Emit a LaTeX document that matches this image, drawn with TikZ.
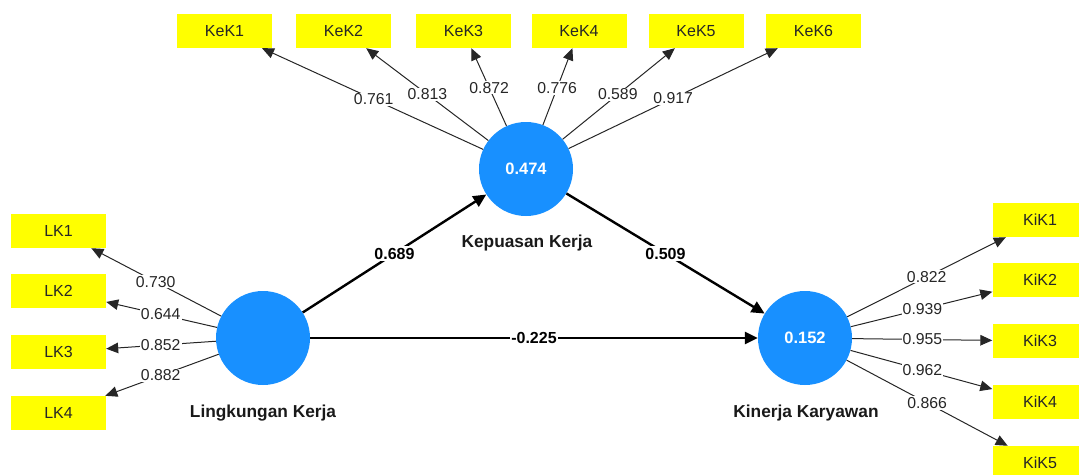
\documentclass[tikz,border=0pt]{standalone}
\usepackage{fontspec}
\setmainfont{Liberation Sans}
\usetikzlibrary{arrows.meta,calc}
\definecolor{lvblue}{RGB}{24,144,255}
\definecolor{indyellow}{RGB}{255,255,0}
\begin{document}
\begin{tikzpicture}[x=1pt,y=-1pt,
  indicator/.style={fill=indyellow, minimum width=95pt, minimum height=34pt, inner sep=0pt,
    font=\fontsize{16}{19}\selectfont, text=black!85},
  latent/.style={circle, fill=lvblue, minimum size=94pt, inner sep=0pt, text=white,
    font=\bfseries\fontsize{16.5}{19}\selectfont},
  construct/.style={font=\bfseries\fontsize{17.3}{20}\selectfont, text=black!90},
  loading/.style={draw=black!85, line width=1pt, -{Triangle[length=12pt,width=10.5pt]}},
  pathcoef/.style={draw=black, line width=2.4pt, -{Triangle[length=13pt,width=12pt]}},
  weight/.style={fill=white, inner sep=1pt, font=\fontsize{15.8}{19}\selectfont, text=black!85},
  coef/.style={fill=white, inner sep=1.5pt, font=\bfseries\fontsize{16}{19}\selectfont}]

\useasboundingbox (0,0) rectangle (1079,474);
\clip (0,0) rectangle (1079,474);

% latent variables
\node[latent] (lk) at (263,338) {};
\node[latent] (kp) at (526,169) {0.474};
\node[latent] (kk) at (805,338) {0.152};
\node[construct] (lkname) at (263,413) {Lingkungan Kerja};
\node[construct] (kpname) at (527,243) {Kepuasan Kerja};
\node[construct] (kkname) at (806,413) {Kinerja Karyawan};

% indicators of Kepuasan Kerja
\node[indicator] (kek1) at (224.5,31) {KeK1};
\node[indicator] (kek2) at (343.5,31) {KeK2};
\node[indicator] (kek3) at (463.5,31) {KeK3};
\node[indicator] (kek4) at (579,31) {KeK4};
\node[indicator] (kek5) at (696,31) {KeK5};
\node[indicator] (kek6) at (813.5,31) {KeK6};

% indicators of Lingkungan Kerja
\node[indicator] (lk1) at (58.5,231) {LK1};
\node[indicator] (lk2) at (58.5,291) {LK2};
\node[indicator] (lk3) at (58.5,352) {LK3};
\node[indicator] (lk4) at (58.5,413) {LK4};

% indicators of Kinerja Karyawan
\node[indicator] (kik1) at (1040,220) {KiK1};
\node[indicator] (kik2) at (1040,280) {KiK2};
\node[indicator] (kik3) at (1040,341) {KiK3};
\node[indicator] (kik4) at (1040,402) {KiK4};
\node[indicator] (kik5) at (1040,463) {KiK5};

% outer loadings
\foreach \t in {kek1,kek2,kek3,kek4,kek5,kek6} \draw[loading] (kp) -- (\t);
\foreach \t in {lk1,lk2,lk3,lk4} \draw[loading] (lk) -- (\t);
\foreach \t in {kik1,kik2,kik3,kik4,kik5} \draw[loading] (kk) -- (\t);

\node[weight] (w1) at ($(kp)!0.505!(kek1)$) {0.761};
\node[weight] (w2) at ($(kp)!0.54!(kek2)$) {0.813};
\node[weight] (w3) at ($(kp)!0.59!(kek3)$) {0.872};
\node[weight] (w4) at ($(kp)!0.587!(kek4)$) {0.776};
\node[weight] (w5) at ($(kp)!0.54!(kek5)$) {0.589};
\node[weight] (w6) at ($(kp)!0.512!(kek6)$) {0.917};

\node[weight] (w7) at ($(lk)!0.525!(lk1)$) {0.730};
\node[weight] (w8) at ($(lk)!0.5!(lk2)$) {0.644};
\node[weight] (w9) at ($(lk)!0.5!(lk3)$) {0.852};
\node[weight] (w10) at ($(lk)!0.5!(lk4)$) {0.882};

\node[weight] (w11) at ($(kk)!0.518!(kik1)$) {0.822};
\node[weight] (w12) at ($(kk)!0.5!(kik2)$) {0.939};
\node[weight] (w13) at ($(kk)!0.5!(kik3)$) {0.955};
\node[weight] (w14) at ($(kk)!0.5!(kik4)$) {0.962};
\node[weight] (w15) at ($(kk)!0.52!(kik5)$) {0.866};

% structural paths
\draw[pathcoef] (lk) -- node[coef] {0.689} (kp);
\draw[pathcoef] (kp) -- node[coef] {0.509} (kk);
\draw[pathcoef] (lk) -- node[coef] {-0.225} (kk);
\end{tikzpicture}
\end{document}
